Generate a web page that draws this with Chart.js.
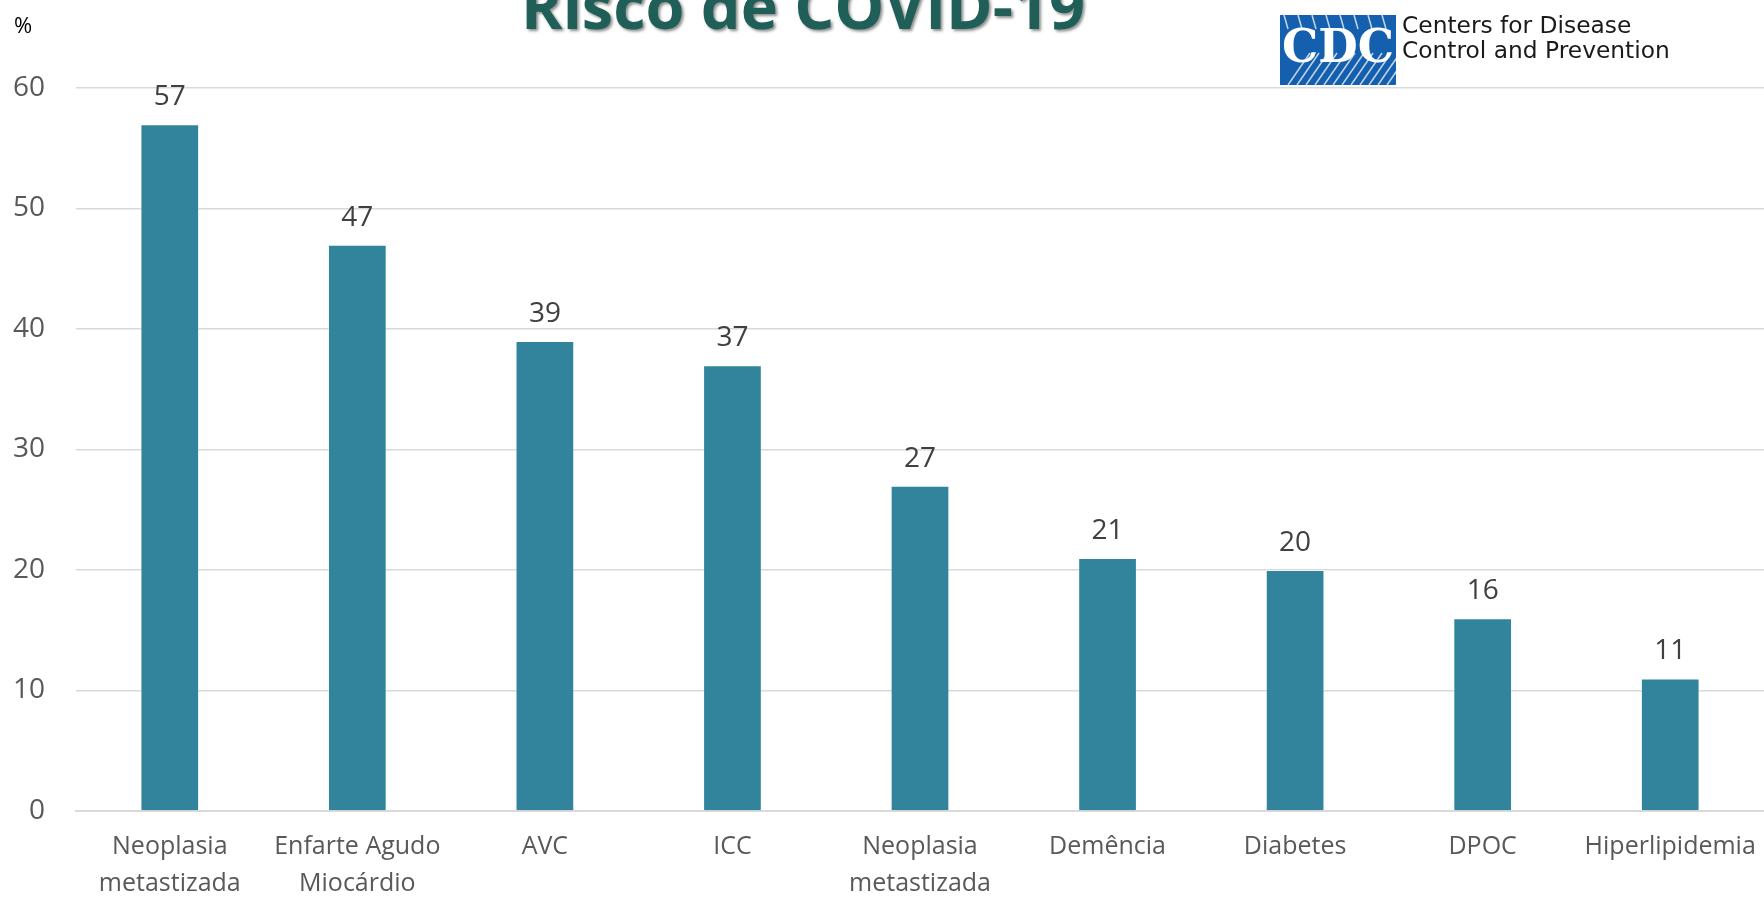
<!DOCTYPE html>
<html>
<head>
<meta charset="utf-8">
<script src="https://cdn.jsdelivr.net/npm/chart.js@4.4.1/dist/chart.umd.min.js"></script>
<style>
  html, body { margin: 0; padding: 0; background: #ffffff; }
  #wrap { width: 1764px; height: 899px; position: relative; }
</style>
</head>
<body>
<div id="wrap"><canvas id="myChart" width="1764" height="899"></canvas></div>
<script>
// Chart data
const categories = [
    ['Neoplasia', 'metastizada'],
    ['Enfarte Agudo', 'Miocárdio'],
    'AVC',
    'ICC',
    ['Neoplasia', 'metastizada'],
    'Demência',
    'Diabetes',
    'DPOC',
    'Hiperlipidemia'
];
const riskValues = [57, 47, 39, 37, 27, 21, 20, 16, 11];
const yTicks = [0, 10, 20, 30, 40, 50, 60];

const chartTitle = 'Risco de COVID-19';
const unitLabel = '%';
const logoLines = ['Centers for Disease', 'Control and Prevention'];

const barColor = '#31849B';
const labelFont = '"Open Sans", sans-serif';

// Values above the bars
const valueLabels = {
    id: 'valueLabels',
    afterDatasetsDraw(chart) {
        const ctx = chart.ctx;
        const meta = chart.getDatasetMeta(0);
        ctx.save();
        ctx.fillStyle = '#404040';
        ctx.font = '28px ' + labelFont;
        ctx.textAlign = 'center';
        ctx.textBaseline = 'alphabetic';
        meta.data.forEach((bar, i) => {
            ctx.fillText(String(riskValues[i]), bar.x, bar.y - 19);
        });
        ctx.restore();
    }
};

// Fit a string into a given width
function fitFont(ctx, text, weight, family, width) {
    ctx.font = weight + ' 40px ' + family;
    const size = 40 * width / ctx.measureText(text).width;
    ctx.font = weight + ' ' + size + 'px ' + family;
}

// Title, unit and CDC logo
const decorations = {
    id: 'decorations',
    afterDraw(chart) {
        const ctx = chart.ctx;
        ctx.save();

        // title, partly cut off at the top
        fitFont(ctx, chartTitle, 'bold', '"Open Sans", sans-serif', 564);
        ctx.textAlign = 'center';
        ctx.textBaseline = 'alphabetic';
        ctx.shadowColor = 'rgba(0,0,0,0.45)';
        ctx.shadowOffsetX = 2;
        ctx.shadowOffsetY = 2;
        ctx.shadowBlur = 3;
        ctx.fillStyle = '#1F5F58';
        ctx.fillText(chartTitle, 803, 29);
        ctx.shadowColor = 'transparent';

        // unit
        ctx.font = '22px ' + labelFont;
        ctx.fillStyle = '#000000';
        ctx.textAlign = 'left';
        ctx.fillText(unitLabel, 14, 33);

        // CDC logo box
        const lx = 1280, ly = 15, lw = 116, lh = 70;
        ctx.fillStyle = '#1560AE';
        ctx.fillRect(lx, ly, lw, lh);
        ctx.save();
        ctx.beginPath();
        ctx.rect(lx, ly, lw, lh);
        ctx.clip();
        ctx.strokeStyle = 'rgba(255,255,255,0.75)';
        ctx.lineWidth = 1.5;
        for (let k = 0; k < 14; k++) {
            ctx.beginPath();
            ctx.moveTo(lx + 8 + k * 9, ly + lh);
            ctx.lineTo(lx + 30 + k * 9, ly + 38);
            ctx.stroke();
        }
        for (let k = 0; k < 8; k++) {
            ctx.beginPath();
            ctx.moveTo(lx + 4 + k * 14, ly);
            ctx.lineTo(lx + 8 + k * 14, ly + 14);
            ctx.stroke();
        }
        ctx.restore();
        ctx.font = 'bold 46px "DejaVu Serif", serif';
        ctx.fillStyle = '#ffffff';
        ctx.textAlign = 'center';
        ctx.textBaseline = 'middle';
        ctx.fillText('CDC', lx + lw / 2, ly + 35, lw - 4);

        // CDC text
        fitFont(ctx, logoLines[1], '', '"DejaVu Sans", sans-serif', 268);
        ctx.fillStyle = '#1A1A1A';
        ctx.textAlign = 'left';
        ctx.textBaseline = 'middle';
        ctx.fillText(logoLines[0], 1402, 27);
        ctx.fillText(logoLines[1], 1402, 52);
        ctx.restore();
    }
};

const ctx = document.getElementById('myChart').getContext('2d');
window.myChart = new Chart(ctx, {
    type: 'bar',
    data: {
        labels: categories,
        datasets: [{
            label: 'Risco',
            data: riskValues,
            backgroundColor: barColor,
            borderColor: 'rgba(255,255,255,0.35)',
            borderWidth: 1,
            categoryPercentage: 1,
            barPercentage: 0.313
        }]
    },
    options: {
        responsive: false,
        animation: false,
        layout: {
            padding: { left: 0, right: 0, top: 88, bottom: 0 }
        },
        plugins: {
            legend: { display: false },
            title: { display: false },
            tooltip: { enabled: false }
        },
        scales: {
            x: {
                grid: { display: false, drawTicks: false },
                border: { display: true, color: '#D9D9D9', width: 2 },
                ticks: {
                    color: '#595959',
                    font: { family: labelFont, size: 25, lineHeight: 1.45 },
                    padding: 18,
                    maxRotation: 0,
                    autoSkip: false
                },
                afterFit(scale) {
                    scale.height = 88;
                    scale.paddingLeft = 0;
                    scale.paddingRight = 0;
                }
            },
            y: {
                min: 0,
                max: 60,
                afterBuildTicks(scale) {
                    scale.ticks = yTicks.map(v => ({ value: v }));
                },
                grid: { color: '#D9D9D9', lineWidth: 1.5, drawTicks: false },
                border: { display: false },
                ticks: {
                    color: '#595959',
                    font: { family: labelFont, size: 28 },
                    padding: 31
                },
                afterFit(scale) { scale.width = 76; }
            }
        }
    },
    plugins: [valueLabels, decorations]
});
</script>
</body>
</html>
